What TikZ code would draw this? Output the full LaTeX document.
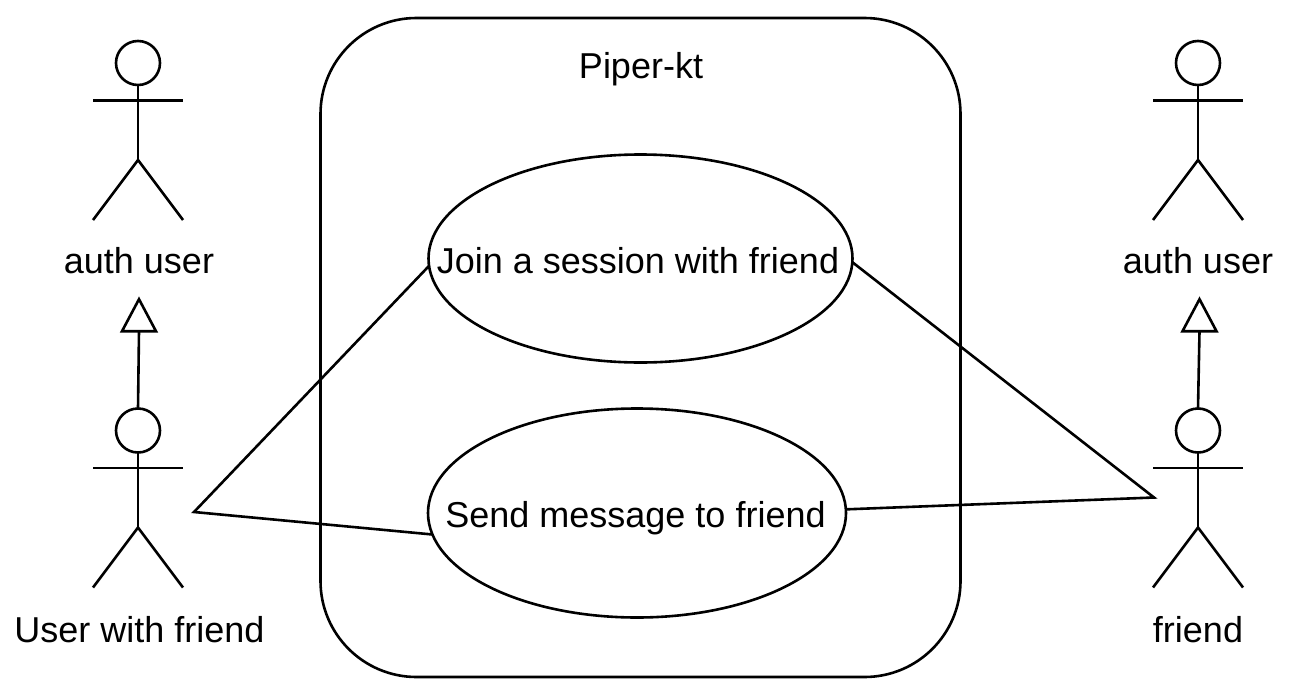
\documentclass[tikz,border=0pt]{standalone}
\usepackage{fontspec}
\usetikzlibrary{shapes.geometric,calc}
\setmainfont{Liberation Sans}
\begin{document}
\begin{tikzpicture}[x=1pt,y=-1pt,
  ln/.style={draw=black,line width=2.6pt},
  lbl/.style={font=\fontsize{36}{40}\selectfont,inner sep=0,text=black,anchor=base},
  usecase/.style={ln,ellipse,inner sep=0pt,outer sep=0pt},
  head/.style={ln,circle,minimum size=44pt,inner sep=0pt,outer sep=0pt},
  sysbox/.style={ln,rounded corners=96pt,minimum width=640pt,minimum height=659pt,inner sep=0pt,outer sep=0pt},
  tri/.style={ln,isosceles triangle,isosceles triangle apex angle=56,rotate=90,minimum height=32pt,inner sep=0pt,outer sep=0pt,isosceles triangle stretches,minimum width=34pt}]
\useasboundingbox (0,0) rectangle (1290,696);
\fill[white] (0,0) rectangle (1290,696);
\node[sysbox] (sys) at (640.5,347.5) {};
\node[lbl] (title) at (641,78) {Piper-kt};
\newcommand{\actor}[3]{%
  \node[head] (#1) at (#2,#3) {};
  \draw[ln] (#1.south) -- ++(0,75) coordinate (#1hip);
  \draw[ln] ($(#1)+(-45,37.5)$) -- ($(#1)+(45,37.5)$);
  \draw[ln] ($(#1hip)+(-45,60)$) -- (#1hip) -- ($(#1hip)+(45,60)$);
}
\actor{a1}{138}{63}
\actor{a2}{138}{430.5}
\actor{a3}{1198}{63}
\actor{a4}{1198}{430.5}
\node[lbl] (l1) at (139,273) {auth user};
\node[lbl] (l2) at (139.5,642) {User with friend};
\node[lbl] (l3) at (1198,273) {auth user};
\node[lbl] (l4) at (1198,642) {friend};
\node[usecase,minimum width=424pt,minimum height=208pt] (u1) at (640.5,258.5) {};
\node[usecase,minimum width=418pt,minimum height=209pt] (u2) at (637,513) {};
\node[lbl] (t1) at (638,273) {Join a session with friend};
\node[lbl] (t2) at (635.5,527.5) {Send message to friend};
\coordinate (ul) at (194,512);
\coordinate (ur) at (1154,497.5);
\draw[ln] (u1.182) -- (ul) -- (u2.186);
\draw[ln] (u1.-1) -- (ur) -- (u2.1.5);
\node[tri] (h1) at (139,321) {};
\node[tri] (h2) at (1199.5,321) {};
\draw[ln] (a2.north) -- (h1.lower side);
\draw[ln] (a4.north) -- (h2.lower side);
\end{tikzpicture}
\end{document}
